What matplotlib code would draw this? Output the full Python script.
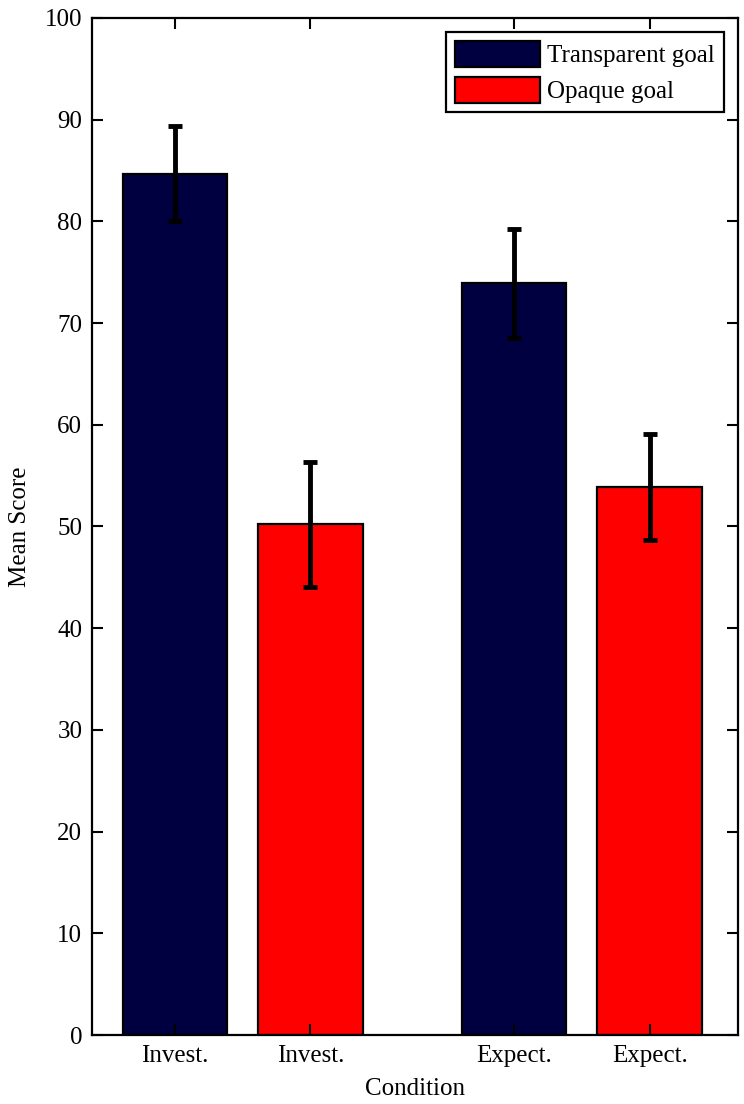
import matplotlib
matplotlib.use("Agg")
import matplotlib.pyplot as plt
import numpy as np

plt.rcParams['font.family'] = ['Liberation Serif', 'DejaVu Serif']

tick_labels = ["Invest.", "Invest.", "Expect.", "Expect."]
positions = [1, 2, 3.5, 4.5]
means = [84.7, 50.2, 73.9, 53.9]
errors = [4.65, 6.1, 5.35, 5.2]
series = ["Transparent goal", "Opaque goal", "Transparent goal", "Opaque goal"]
colors = {"Transparent goal": "#000040", "Opaque goal": "#FF0000"}

fig = plt.figure(figsize=(7.44, 11.04), dpi=100)
ax = fig.add_axes([0.1237, 0.0625, 0.868, 0.9212])

handles = {}
for p, m, s in zip(positions, means, series):
    b = ax.bar(p, m, width=0.77, color=colors[s], edgecolor="black", linewidth=1.6, label=s)
    handles.setdefault(s, b)

ax.errorbar(positions, means, yerr=errors, fmt="none", ecolor="black",
            elinewidth=3.5, capsize=5, capthick=3.5, zorder=5)

ax.set_xlim(0.39, 5.15)
ax.set_ylim(0, 100)
ax.set_yticks(np.arange(0, 101, 10))
ax.set_xticks(positions)
ax.set_xticklabels(tick_labels)
ax.tick_params(direction="in", top=True, right=True, length=8, width=1.5, labelsize=18, pad=7)
for sp in ax.spines.values():
    sp.set_linewidth(1.6)

ax.set_xlabel("Condition", fontsize=18, labelpad=8)
ax.set_ylabel("Mean Score", fontsize=18, labelpad=10)

leg = ax.legend([handles["Transparent goal"], handles["Opaque goal"]],
                ["Transparent goal", "Opaque goal"],
                loc="upper right", bbox_to_anchor=(0.978, 0.986), fontsize=18,
                fancybox=False, edgecolor="black", framealpha=1,
                handlelength=3.4, handleheight=1.2, handletextpad=0.28,
                borderpad=0.35, labelspacing=0.4, borderaxespad=0)
leg.get_frame().set_linewidth(1.6)

fig.savefig("out.png", dpi=100)
